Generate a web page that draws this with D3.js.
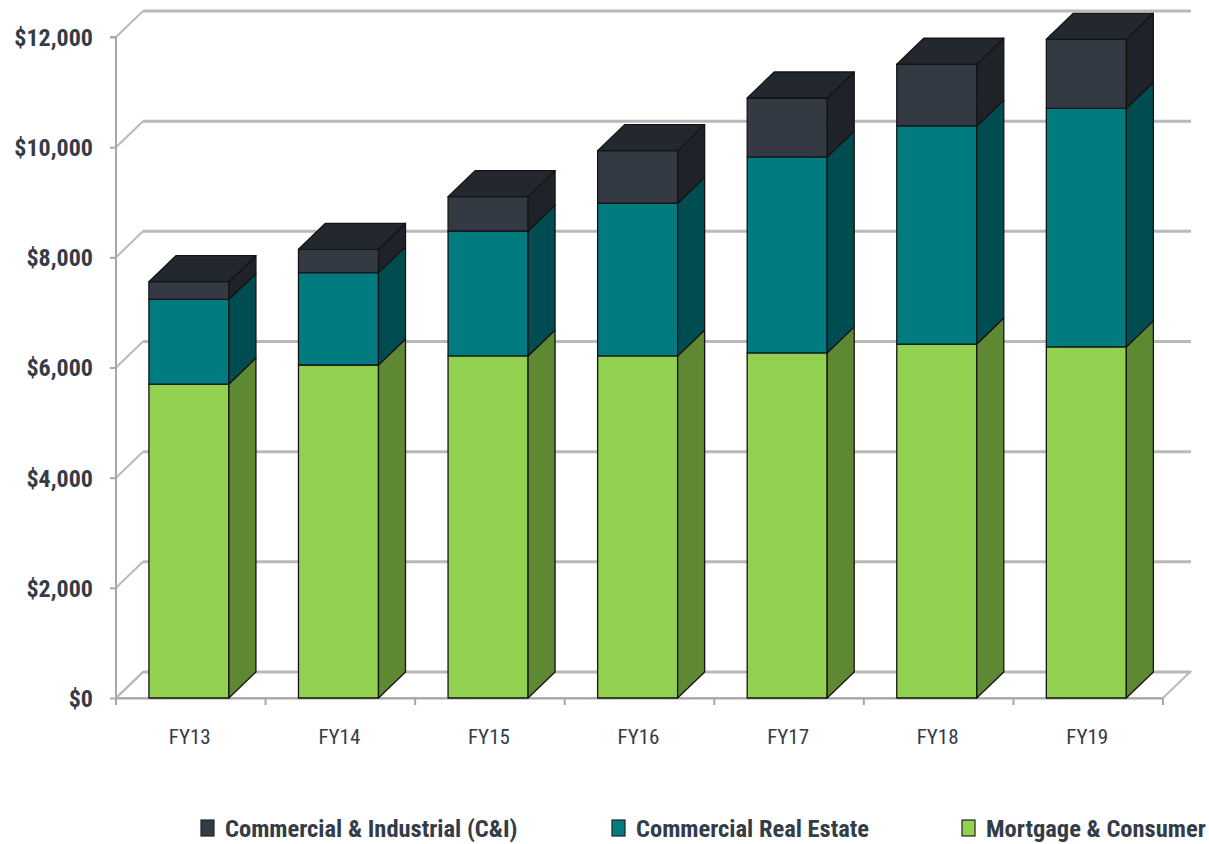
<!DOCTYPE html>
<html><head><meta charset="utf-8">
<script src="https://cdn.jsdelivr.net/npm/d3@7"></script>
<style>
html,body{margin:0;padding:0;background:#fff;}
svg{display:block;}
text{font-family:"Liberation Sans Narrow","Arial Narrow","Roboto Condensed","DejaVu Sans Condensed",sans-serif;fill:#333c47;}
</style></head>
<body>
<svg id="chart" width="1209" height="844"></svg>
<script>
const categories = ["FY13","FY14","FY15","FY16","FY17","FY18","FY19"];
const seriesNames = ["Mortgage & Consumer","Commercial Real Estate","Commercial & Industrial (C&I)"];
const mortgage = [5700, 6045, 6210, 6210, 6265, 6425, 6375];
const cre      = [1538, 1677, 2268, 2772, 3557, 3960, 4331];
const cni      = [320, 424, 624, 955, 1071, 1120, 1252];
const yTicks = [0, 2000, 4000, 6000, 8000, 10000, 12000];
const legendOrder = ["Commercial & Industrial (C&I)","Commercial Real Estate","Mortgage & Consumer"];

const colors = {
  "Mortgage & Consumer": {front:"#92d050", side:"#5e8831", top:"#7fb545"},
  "Commercial Real Estate": {front:"#007b80", side:"#004d51", top:"#00686c"},
  "Commercial & Industrial (C&I)": {front:"#333a44", side:"#1f2329", top:"#23272e"}
};

const svg = d3.select("#chart");
const DX = 27, DY = -26;
const x = d3.scaleBand().domain(categories).range([116, 1163]).paddingInner(0).paddingOuter(0);
const y = d3.scaleLinear().domain([0, 12000]).range([698, 37]);

const data = categories.map((c,i)=>({cat:c, "Mortgage & Consumer":mortgage[i], "Commercial Real Estate":cre[i], "Commercial & Industrial (C&I)":cni[i]}));
const stacked = d3.stack().keys(seriesNames)(data);

// Floor
const x0 = x.range()[0], x1 = x.range()[1];
svg.append("path")
  .attr("d", `M${x0},${y(0)} L${x1},${y(0)} L${x1+DX},${y(0)+DY} L${x0+DX},${y(0)+DY} Z`)
  .attr("fill","#fff").attr("stroke","#b9b9b9").attr("stroke-width",2);

// Back wall gridlines + side wall diagonals
const grid = svg.append("g");
yTicks.forEach(t=>{
  grid.append("line").attr("x1",x0+DX).attr("x2",x1+DX+1).attr("y1",y(t)+DY).attr("y2",y(t)+DY)
    .attr("stroke","#b9b9b9").attr("stroke-width",3);
  grid.append("line").attr("x1",x0).attr("x2",x0+DX).attr("y1",y(t)).attr("y2",y(t)+DY)
    .attr("stroke","#b9b9b9").attr("stroke-width",2);
});

// Y axis
const yAxis = d3.axisLeft(y).tickValues(yTicks).tickSize(6).tickPadding(4)
  .tickFormat(d=>"$"+d3.format(",")(d));
const gy = svg.append("g").attr("transform",`translate(${x0},0)`).call(yAxis);
gy.select(".domain").attr("stroke","#a8a8a8").attr("stroke-width",2).attr("d",`M-6,${y(12000)}H0V${y(0)}`);
gy.selectAll(".tick line").attr("stroke","#a8a8a8").attr("stroke-width",2);
gy.selectAll(".tick text").style("font-size","24px").style("font-weight","bold").attr("fill","#333c47").attr("dy","0.35em").attr("x",-23);

// X axis
const xAxis = d3.axisBottom(x).tickSize(0).tickPadding(31);
const gx = svg.append("g").attr("transform",`translate(0,${y(0)})`).call(xAxis);
gx.select(".domain").attr("stroke","#a8a8a8").attr("stroke-width",2);
gx.selectAll(".tick text").style("font-size","21px").attr("fill","#333c47").attr("dx","-1");
// boundary ticks
const bounds = categories.map(c=>x(c)).concat([x1]);
gx.selectAll(".btick").data(bounds).enter().append("line")
  .attr("x1",d=>d).attr("x2",d=>d).attr("y1",0).attr("y2",7)
  .attr("stroke","#a8a8a8").attr("stroke-width",2);

// Bars
const bw = x.bandwidth();
const off = bw*0.22, w = bw*0.535;
const bars = svg.append("g");
categories.forEach((c,i)=>{
  const g = bars.append("g");
  const bx = x(c)+off;
  stacked.forEach((s,si)=>{
    const key = s.key; const col = colors[key];
    const yb = y(s[i][0]), yt = y(s[i][1]);
    g.append("path").attr("d",`M${bx},${yb} L${bx},${yt} L${bx+w},${yt} L${bx+w},${yb} Z`)
      .attr("fill",col.front).attr("stroke","#141414").attr("stroke-width",1.3).attr("stroke-linejoin","round");
    g.append("path").attr("d",`M${bx+w},${yb} L${bx+w},${yt} L${bx+w+DX},${yt+DY} L${bx+w+DX},${yb+DY} Z`)
      .attr("fill",col.side).attr("stroke","#141414").attr("stroke-width",1.3).attr("stroke-linejoin","round");
    if(si===stacked.length-1){
      g.append("path").attr("d",`M${bx},${yt} L${bx+DX},${yt+DY} L${bx+w+DX},${yt+DY} L${bx+w},${yt} Z`)
        .attr("fill",col.top).attr("stroke","#141414").attr("stroke-width",1.3).attr("stroke-linejoin","round");
    }
  });
});

// Legend
const legendX = [201, 612, 962];
const lg = svg.append("g");
legendOrder.forEach((k,i)=>{
  const gg = lg.append("g").attr("transform",`translate(${legendX[i]},828)`);
  gg.append("rect").attr("x",0).attr("y",-8).attr("width",13).attr("height",16)
    .attr("fill",colors[k].front).attr("stroke","#222").attr("stroke-width",1.2);
  gg.append("text").attr("x",24).attr("y",0).attr("dy","0.35em")
    .style("font-size","24.5px").style("font-weight","bold").text(k);
});
</script>
</body></html>
